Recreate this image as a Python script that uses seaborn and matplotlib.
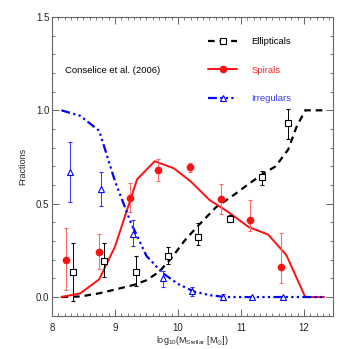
import numpy as np
import pandas as pd
import matplotlib
matplotlib.use('Agg')
import matplotlib.pyplot as plt
from matplotlib.lines import Line2D
from matplotlib.ticker import MultipleLocator, FormatStrFormatter
import seaborn as sns

# model curves
ell_x = [8.15, 8.45, 8.75, 9.0, 9.3, 9.5, 9.7, 9.9, 10.1, 10.3, 10.6, 10.9, 11.1, 11.35, 11.55, 11.75, 11.88, 12.02, 12.33]
ell_y = [0.0, 0.003, 0.02, 0.04, 0.065, 0.09, 0.135, 0.21, 0.30, 0.375, 0.48, 0.55, 0.60, 0.66, 0.70, 0.79, 0.91, 1.0, 1.0]

spi_x = [8.15, 8.45, 8.75, 9.0, 9.35, 9.63, 9.93, 10.2, 10.5, 10.8, 11.12, 11.43, 11.72, 12.02, 12.32]
spi_y = [0.0, 0.02, 0.095, 0.27, 0.63, 0.727, 0.69, 0.62, 0.52, 0.455, 0.375, 0.335, 0.225, 0.0, 0.0]

irr_x = [8.15, 8.45, 8.75, 9.0, 9.25, 9.5, 9.75, 10.0, 10.25, 10.5, 10.75, 11.0, 11.5, 12.0, 12.33]
irr_y = [1.0, 0.97, 0.89, 0.62, 0.40, 0.22, 0.13, 0.07, 0.03, 0.01, 0.0, 0.0, 0.0, 0.0, 0.0]

# Conselice et al. (2006) points
ep_x = [8.34, 8.83, 9.33, 9.84, 10.32, 10.83, 11.33, 11.74]
ep_y = [0.136, 0.193, 0.136, 0.22, 0.322, 0.42, 0.645, 0.93]
ep_lo = [0.155, 0.085, 0.076, 0.043, 0.045, 0.02, 0.045, 0.085]
ep_hi = [0.155, 0.094, 0.084, 0.046, 0.075, 0.02, 0.032, 0.075]

sp_x = [8.23, 8.74, 9.24, 9.69, 10.19, 10.68, 11.14, 11.63]
sp_y = [0.20, 0.24, 0.53, 0.68, 0.695, 0.527, 0.415, 0.163]
sp_lo = [0.165, 0.09, 0.075, 0.06, 0.025, 0.08, 0.06, 0.09]
sp_hi = [0.17, 0.10, 0.08, 0.06, 0.025, 0.08, 0.105, 0.18]

ir_x = [8.28, 8.78, 9.28, 9.77, 10.22, 10.72, 11.17, 11.66]
ir_y = [0.67, 0.58, 0.34, 0.10, 0.03, 0.0, 0.0, 0.0]
ir_lo = [0.16, 0.09, 0.065, 0.045, 0.025, 0.015, 0.0, 0.0]
ir_hi = [0.16, 0.09, 0.075, 0.04, 0.025, 0.015, 0.0, 0.0]

labels = ['Ellipticals', 'Spirals', 'Irregulars']

sns.set_theme(style='ticks')
plt.rcParams['font.family'] = ['Liberation Sans', 'DejaVu Sans']
plt.rcParams['mathtext.default'] = 'regular'

fig = plt.figure(figsize=(3.49, 3.49), dpi=100)
ax = fig.add_axes([0.149, 0.0954, 0.805, 0.856])

ell_dash = (3, 2.2)
irr_dash = (4, 1.5, 1, 1.5, 1, 1.5, 1, 1.5)

sns.lineplot(x=ell_x, y=ell_y, color='black', linewidth=1.6, ax=ax, estimator=None)
ax.lines[-1].set_dashes(ell_dash)
sns.lineplot(x=spi_x, y=spi_y, color='#ff1010', linewidth=1.4, ax=ax, estimator=None)
sns.lineplot(x=irr_x, y=irr_y, color='#0000ff', linewidth=1.6, ax=ax, estimator=None)
ax.lines[-1].set_dashes(irr_dash)

ax.errorbar(ep_x, ep_y, yerr=[ep_lo, ep_hi], fmt='s', mfc='white', mec='black', ms=5,
            mew=0.8, ecolor='black', elinewidth=0.7, capsize=1.6, capthick=0.7, zorder=5)
ax.errorbar(sp_x, sp_y, yerr=[sp_lo, sp_hi], fmt='o', mfc='#ff1010', mec='#ff1010', ms=4.5,
            ecolor='#ff6a6a', elinewidth=0.8, capsize=1.6, capthick=0.8, zorder=5)
ax.errorbar(ir_x, ir_y, yerr=[ir_lo, ir_hi], fmt='^', mfc='white', mec='#0000ff', ms=5,
            mew=0.8, ecolor='#3030ff', elinewidth=0.7, capsize=1.6, capthick=0.7, zorder=5)

ax.set_xlim(8, 12.46)
ax.set_ylim(-0.1, 1.5)
ax.xaxis.set_major_locator(MultipleLocator(1))
ax.xaxis.set_minor_locator(MultipleLocator(0.1))
ax.yaxis.set_major_locator(MultipleLocator(0.5))
ax.yaxis.set_minor_locator(MultipleLocator(0.1))
ax.yaxis.set_major_formatter(FormatStrFormatter('%.1f'))
ax.xaxis.set_major_formatter(FormatStrFormatter('%d'))
ax.tick_params(which='both', direction='in', top=True, right=True, color='#666666', labelsize=7)
ax.tick_params(which='major', length=5, width=0.7)
ax.tick_params(which='minor', length=2.5, width=0.6)
ax.tick_params(axis='x', pad=5)
ax.tick_params(axis='y', pad=2)
for s in ax.spines.values():
    s.set_color('#666666')
    s.set_linewidth(0.8)

ax.set_ylabel('Fractions', fontsize=6.5, labelpad=6)
ax.set_xlabel(r'log$_{10}$(M$_{Stellar}$ [M$_{\odot}$])', fontsize=6.5, labelpad=2)

ax.text(8.2, 1.213, 'Conselice et al. (2006)', fontsize=6.8, va='center', ha='left', color='black')

handles = [
    Line2D([0], [0], color='black', lw=1.6, dashes=ell_dash, marker='s', mfc='white', mec='black', ms=5, mew=0.8),
    Line2D([0], [0], color='#ff1010', lw=1.4, marker='o', mfc='#ff1010', mec='#ff1010', ms=4.5),
    Line2D([0], [0], color='#0000ff', lw=1.6, dashes=irr_dash, marker='^', mfc='white', mec='#0000ff', ms=5, mew=0.8),
]
leg = ax.legend(handles, labels, loc='upper left',
                bbox_to_anchor=(0.555, 0.932), frameon=False, fontsize=6.8, borderpad=0,
                borderaxespad=0, handlelength=3.1, handletextpad=1.5, labelspacing=2.05)
for t, c in zip(leg.get_texts(), ['black', '#ff2020', '#3a3aff']):
    t.set_color(c)

fig.savefig('out.png', dpi=100)
